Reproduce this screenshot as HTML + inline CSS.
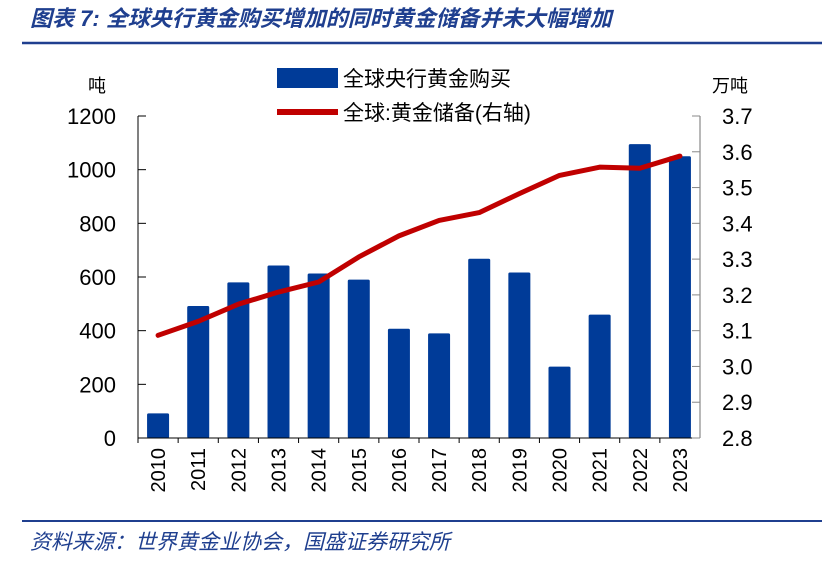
<!DOCTYPE html>
<html><head><meta charset="utf-8"><style>
body{margin:0;background:#fff;width:829px;height:563px;overflow:hidden;font-family:"Liberation Sans","Noto Sans CJK SC",sans-serif}
</style></head><body>
<svg width="829" height="563" xmlns="http://www.w3.org/2000/svg">
<text x="30" y="26" font-size="22" fill="#1f3f8f" font-style="italic" font-weight="bold" font-family="Liberation Sans,Noto Sans CJK SC,sans-serif">图表 7:  全球央行黄金购买增加的同时黄金储备并未大幅增加</text>
<line x1="22" y1="43" x2="822" y2="43" stroke="#1f3f8f" stroke-width="2.5"/>
<line x1="22" y1="521" x2="822" y2="521" stroke="#1f3f8f" stroke-width="2"/>
<text x="30" y="549" font-size="21" fill="#1f3f8f" font-style="italic" font-family="Liberation Sans,Noto Sans CJK SC,sans-serif">资料来源：世界黄金业协会，国盛证券研究所</text>
<text x="88" y="92" font-size="18" fill="#000">吨</text>
<text x="712" y="92" font-size="18" fill="#000">万吨</text>
<rect x="277" y="68" width="61" height="20" fill="#003b98"/>
<text x="343" y="86" font-size="21">全球央行黄金购买</text>
<line x1="277" y1="112" x2="338" y2="112" stroke="#c00000" stroke-width="6"/>
<text x="343" y="120" font-size="21">全球:黄金储备(右轴)</text>
<g id="plot"></g>
</svg>
<script>
const categories=["2010","2011","2012","2013","2014","2015","2016","2017","2018","2019","2020","2021","2022","2023"];
const purchases=[92,492,580,643,613,590,407,390,668,617,266,460,1095,1050];
const reserves=[3.087,3.126,3.174,3.208,3.236,3.306,3.365,3.408,3.43,3.483,3.534,3.557,3.554,3.588];
const leftTicks=[0,200,400,600,800,1000,1200];
const rightTicks=["2.8","2.9","3.0","3.1","3.2","3.3","3.4","3.5","3.6","3.7"];
const NS="http://www.w3.org/2000/svg";
const g=document.getElementById('plot');
const X0=138,X1=700,Y0=438,Y1=116;
const step=(X1-X0)/categories.length;
const xC=i=>X0+step*(i+0.5);
const yL=v=>Y0-(v/1200)*(Y0-Y1);
const yR=v=>Y0-((v-2.8)/0.9)*(Y0-Y1);
function mk(t,a){const e=document.createElementNS(NS,t);for(const k in a)e.setAttribute(k,a[k]);g.appendChild(e);return e;}
purchases.forEach((v,i)=>{
 const r=mk('rect',{x:xC(i)-11,y:yL(v),width:22,height:Y0-yL(v),fill:'#003b98',rx:1.5});
 
 
});
const p=mk('polyline',{points:reserves.map((v,i)=>xC(i)+','+yR(v)).join(' '),fill:'none',stroke:'#c00000','stroke-width':5,'stroke-linejoin':'round','stroke-linecap':'round'});


const ax=mk('path',{d:`M${X0} ${Y1}V${Y0}H${X1}`,fill:'none',stroke:'#000','stroke-width':1});


const ax2=mk('line',{x1:X1,x2:X1,y1:Y1,y2:Y0,stroke:'#888','stroke-width':1.2});


leftTicks.forEach(v=>{
 mk('line',{x1:X0,x2:X0+8,y1:yL(v),y2:yL(v),stroke:'#000'});
 const t=mk('text',{x:X0-22,y:yL(v)+8,'font-size':22,'text-anchor':'end'});t.textContent=v;
 
 
});
rightTicks.forEach(s=>{
 const v=parseFloat(s);
 mk('line',{x1:X1-8,x2:X1,y1:yR(v),y2:yR(v),stroke:'#888'});
 const t=mk('text',{x:X1+22,y:yR(v)+8,'font-size':22});t.textContent=s;
 
 
});
categories.forEach((c,i)=>{
 mk('line',{x1:X0+step*i,x2:X0+step*i,y1:Y0,y2:Y0+5,stroke:'#000'});
 const t=mk('text',{x:0,y:0,'font-size':20,'text-anchor':'end',transform:`translate(${xC(i)+7},${Y0+10}) rotate(-90)`});t.textContent=c;
 
 
});
</script>
</body></html>
